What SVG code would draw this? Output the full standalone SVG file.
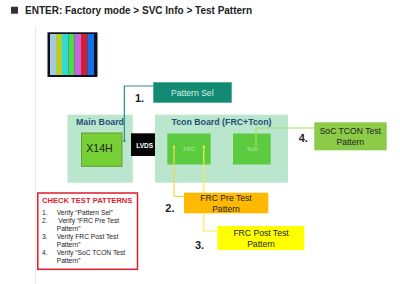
<svg xmlns="http://www.w3.org/2000/svg" width="400" height="284" viewBox="0 0 400 284">
<style>
text{font-family:"Liberation Sans",Arial,sans-serif;fill:#222}
.num{font-size:11px;font-weight:bold}
.lbl{font-size:8.6px;text-anchor:middle}
.brd{font-size:8.8px;font-weight:bold;fill:#1f4e79;text-anchor:middle}
.pale{fill:#b9e6cc}
.list{font-size:6.7px;fill:#444}
.wire{fill:none;stroke-width:1.2}
</style>
<defs>
<marker id="dot" markerUnits="userSpaceOnUse" markerWidth="4" markerHeight="4" refX="2" refY="2">
<circle cx="2" cy="2" r="1.200" fill="context-stroke"/>
</marker>
</defs>
<rect width="400" height="284" fill="#fff"/>
<line x1="35.500" y1="28" x2="35.500" y2="284" stroke="#e8e8e8"/>
<g id="heading">
<rect x="11" y="6.700" width="7" height="7" fill="#333"/>
<text x="25" y="14" font-size="10" font-weight="bold" fill="#444">ENTER: Factory mode &gt; SVC Info &gt; Test Pattern</text>
</g>
<g id="test-screen">
<rect x="47.500" y="32.300" width="50" height="44.700" fill="#0a1020"/>
<rect x="50" y="34" width="6" height="41" fill="#a8c8dc"/>
<rect x="56" y="34" width="6" height="41" fill="#b4cc2c"/>
<rect x="62" y="34" width="6.700" height="41" fill="#34d8d0"/>
<rect x="68.700" y="34" width="6" height="41" fill="#50d850"/>
<rect x="74.700" y="34" width="6.300" height="41" fill="#c864e0"/>
<rect x="81" y="34" width="6.300" height="41" fill="#d81c30"/>
<rect x="87.300" y="34" width="6.700" height="41" fill="#1470e8"/>
</g>
<g id="main-board">
<rect class="pale" x="67.500" y="114.700" width="65.300" height="68"/>
<text class="brd" x="100" y="125">Main Board</text>
<rect x="81.500" y="133" width="40.500" height="33.300" fill="#76cf35" stroke="#6a9a3a"/>
<text x="99.500" y="152" font-size="10.500" text-anchor="middle">X14H</text>
</g>
<g id="lvds">
<rect x="131" y="133.300" width="28" height="22.700" fill="#050505"/>
<text x="144.700" y="147.500" font-size="6.500" font-weight="bold" text-anchor="middle" style="fill:#fff">LVDS</text>
</g>
<g id="tcon-board">
<rect class="pale" x="155" y="114.700" width="133" height="68"/>
<text class="brd" x="221.500" y="125">Tcon Board (FRC+Tcon)</text>
<rect x="167.300" y="133.500" width="43.400" height="31" fill="#5ccb40"/>
<text x="189" y="150.500" font-size="5.500" text-anchor="middle" style="fill:#b8e8a8">FRC</text>
<rect x="233" y="133.500" width="37.700" height="31" fill="#5ccb40"/>
<text x="252.300" y="150.500" font-size="5.500" text-anchor="middle" style="fill:#b8e8a8">Tcon</text>
</g>
<g id="connectors">
<path class="wire" d="M153.300 86H124.400V141" stroke="#2e9182" marker-end="url(#dot)"/>
<path class="wire" d="M184 196.400H174V146.700" stroke="#f5d64a" marker-end="url(#dot)"/>
<path class="wire" d="M217.500 231H203.800V146.700" stroke="#f6f048" marker-end="url(#dot)"/>
<path class="wire" d="M314.500 128H256V148.300" stroke="#a6dc60"/>
</g>
<g id="pattern-sel">
<rect x="153.300" y="82.300" width="78.400" height="20.400" fill="#138a72"/>
<text class="lbl" x="192.300" y="95.500" style="fill:#d8f0e8">Pattern Sel</text>
</g>
<g id="frc-pre">
<rect x="184" y="192.700" width="84.300" height="20.600" fill="#ffb900"/>
<text class="lbl" x="226" y="201">FRC Pre Test</text>
<text class="lbl" x="226" y="211.700">Pattern</text>
</g>
<g id="frc-post">
<rect x="217.300" y="226" width="87" height="24" fill="#ffff00"/>
<text class="lbl" x="261" y="236">FRC Post Test</text>
<text class="lbl" x="261" y="246.700">Pattern</text>
</g>
<g id="soc-tcon">
<rect x="314.300" y="122.300" width="72.400" height="28" fill="#8ccb48"/>
<text class="lbl" x="350.300" y="134.300">SoC TCON Test</text>
<text class="lbl" x="350.300" y="145">Pattern</text>
</g>
<g id="step-numbers">
<text class="num" x="135" y="102.300">1.</text>
<text class="num" x="165.300" y="212.300">2.</text>
<text class="num" x="195" y="249">3.</text>
<text class="num" x="298.700" y="142.300">4.</text>
</g>
<g id="check-panel">
<rect x="37.800" y="193" width="99.700" height="76.300" fill="#fff" stroke="#e01c2c" stroke-width="1.500"/>
<text x="42" y="202.800" font-size="7.600" font-weight="bold" style="fill:#e02030">CHECK TEST PATTERNS</text>
<g class="list">
<text x="42" y="214.700">1.</text><text x="56.700" y="214.700">Verify “Pattern Sel”</text>
<text x="42" y="222.700">2.</text><text x="58.300" y="222.700">Verify  “FRC Pre Test</text>
<text x="56.700" y="230.500">Pattern”</text>
<text x="42" y="238.700">3.</text><text x="56.700" y="238.700">Verify FRC Post Test</text>
<text x="56.700" y="246.500">Pattern”</text>
<text x="42" y="254.700">4.</text><text x="56.700" y="254.700">Verify “SoC TCON Test</text>
<text x="56.700" y="262.500">Pattern”</text>
</g>
</g>
</svg>
